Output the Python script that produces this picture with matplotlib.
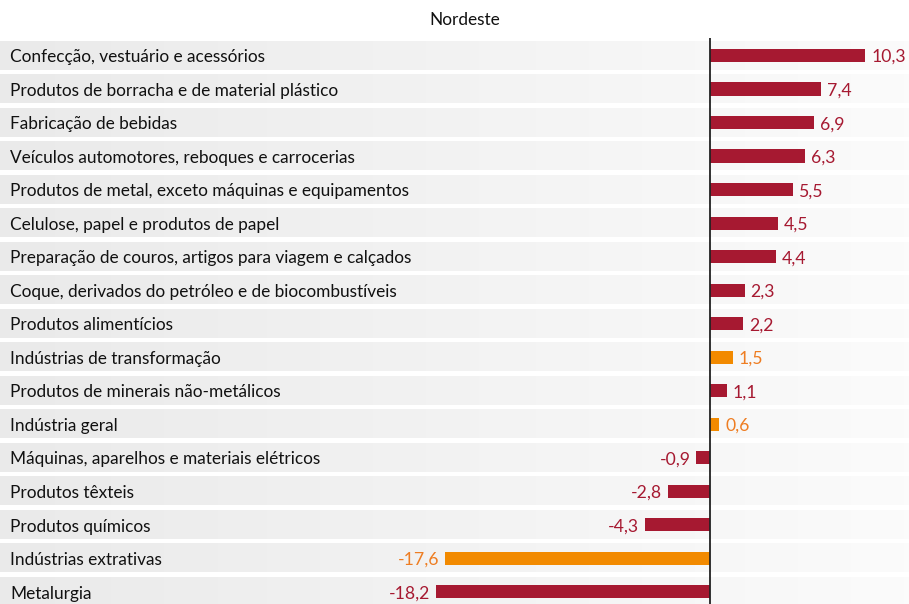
import numpy as np
import matplotlib.pyplot as plt
from matplotlib.colors import LinearSegmentedColormap

categories = [
    "Confecção, vestuário e acessórios",
    "Produtos de borracha e de material plástico",
    "Fabricação de bebidas",
    "Veículos automotores, reboques e carrocerias",
    "Produtos de metal, exceto máquinas e equipamentos",
    "Celulose, papel e produtos de papel",
    "Preparação de couros, artigos para viagem e calçados",
    "Coque, derivados do petróleo e de biocombustíveis",
    "Produtos alimentícios",
    "Indústrias de transformação",
    "Produtos de minerais não-metálicos",
    "Indústria geral",
    "Máquinas, aparelhos e materiais elétricos",
    "Produtos têxteis",
    "Produtos químicos",
    "Indústrias extrativas",
    "Metalurgia",
]
values = [10.3, 7.4, 6.9, 6.3, 5.5, 4.5, 4.4, 2.3, 2.2, 1.5, 1.1, 0.6,
          -0.9, -2.8, -4.3, -17.6, -18.2]
highlight = ["Indústrias de transformação", "Indústria geral", "Indústrias extrativas"]

RED = "#a61931"
ORANGE = "#f28a00"
ORANGE_TXT = "#ee7d22"

plt.rcParams['font.family'] = ['Lato', 'DejaVu Sans']

W, H = 909, 604
fig = plt.figure(figsize=(W / 100, H / 100), dpi=100)
ax = fig.add_axes([0, 0, 1, (H - 38) / H])

px = 15.05  # pixels per unit
xmin = -710 / px
xmax = (W - 710) / px
ax.set_xlim(xmin, xmax)
ax.set_ylim(16.36, -0.52)
ax.axis("off")

n = len(categories)
y = np.arange(n)
grad = LinearSegmentedColormap.from_list("g", ["#eaeaea", "#fbfbfb"])
g = np.linspace(0, 1, 256).reshape(1, -1)
for i in y:
    ax.imshow(g, cmap=grad, aspect="auto", extent=(xmin, xmax, i + 0.42, i - 0.42),
              interpolation="bilinear", zorder=0)

colors = [ORANGE if c in highlight else RED for c in categories]
txtcolors = [ORANGE_TXT if c in highlight else RED for c in categories]
ax.barh(y, values, height=0.39, color=colors, zorder=2)
ax.axvline(0, color="#222222", lw=1.3, zorder=3)

fs = 12.4
off = 6 / px
for i, (c, v) in enumerate(zip(categories, values)):
    ax.text(10 / W, i + 0.05, c, transform=ax.get_yaxis_transform(), ha="left", va="center",
            fontsize=fs, color="#111111", zorder=4)
    lab = f"{v:.1f}".replace(".", ",")
    if v >= 0:
        ax.text(v + off, i + 0.05, lab, ha="left", va="center", fontsize=fs + 0.3,
                color=txtcolors[i], zorder=4)
    else:
        ax.text(v - off, i + 0.05, lab, ha="right", va="center", fontsize=fs + 0.3,
                color=txtcolors[i], zorder=4)

fig.text(465 / W, 1 - 20 / H, "Nordeste", ha="center", va="center", fontsize=fs,
         color="#111111")

fig.savefig("out.png", dpi=100)
